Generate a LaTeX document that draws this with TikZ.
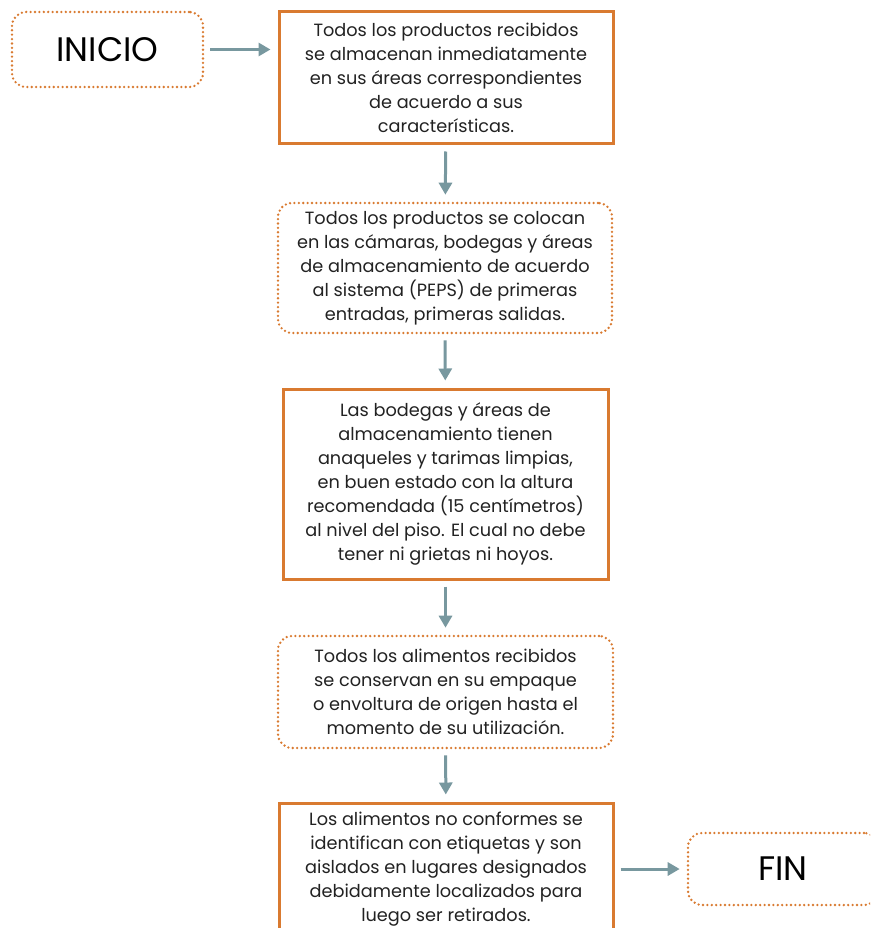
\documentclass[tikz,border=0pt]{standalone}
\usepackage{fontspec}
\setmainfont{Poppins}
\usetikzlibrary{arrows.meta}
\definecolor{boxorange}{HTML}{D97A30}
\definecolor{flowgray}{HTML}{78989F}
\definecolor{inkgray}{HTML}{222222}
\tikzset{
  solidbox/.style={draw=boxorange, line width=3pt, fill=white, align=center,
    text=inkgray, font=\fontsize{17.7}{24}\selectfont, inner sep=0pt},
  dotbox/.style={draw=boxorange, line width=2.6pt, line cap=round,
    dash pattern=on 0pt off 4.4pt, rounded corners=14pt, fill=white, align=center,
    text=inkgray, font=\fontsize{17.7}{24}\selectfont, inner sep=0pt},
  termbox/.style={dotbox, font=\fontsize{34}{40}\selectfont, text=black},
  flow/.style={draw=flowgray, line width=3pt,
    -{Triangle[length=12pt,width=13pt]}, shorten <=6pt, shorten >=7pt}
}
\begin{document}
\begin{tikzpicture}[x=1pt,y=-1pt]
\useasboundingbox (0,0) rectangle (870,928);
\clip (0,0) rectangle (870,928);
\fill[white] (0,0) rectangle (870,928);

\node[termbox, minimum width=191pt, minimum height=75pt] (inicio) at (107.5,49.5) {INICIO};

\node[solidbox, minimum width=334pt, minimum height=132pt] (s1) at (446,78)
  {Todos los productos recibidos\\se almacenan inmediatamente\\en sus áreas correspondientes\\de acuerdo a sus\\características.};

\node[dotbox, minimum width=334pt, minimum height=130pt] (s2) at (445,268)
  {Todos los productos se colocan\\en las cámaras, bodegas y áreas\\de almacenamiento de acuerdo\\al sistema (PEPS) de primeras\\entradas, primeras salidas.};

\node[solidbox, minimum width=325pt, minimum height=190pt] (s3) at (445.5,484)
  {Las bodegas y áreas de\\almacenamiento tienen\\anaqueles y tarimas limpias,\\en buen estado con la altura\\recomendada (15 centímetros)\\al nivel del piso. El cual no debe\\tener ni grietas ni hoyos.};

\node[dotbox, minimum width=335pt, minimum height=112pt] (s4) at (445.5,692)
  {Todos los alimentos recibidos\\se conservan en su empaque\\o envoltura de origen hasta el\\momento de su utilización.};

\node[solidbox, minimum width=334pt, minimum height=132pt] (s5) at (446,869)
  {Los alimentos no conformes se\\identifican con etiquetas y son\\aislados en lugares designados\\debidamente localizados para\\luego ser retirados.};

\node[termbox, minimum width=190pt, minimum height=72pt] (fin) at (783,869) {FIN};

\draw[flow] (inicio.east) -- (inicio.east -| s1.west);
\draw[flow] (s1) -- (s2);
\draw[flow] (s2) -- (s3);
\draw[flow] (s3) -- (s4);
\draw[flow] (s4) -- (s5);
\draw[flow] (s5) -- (fin);
\end{tikzpicture}
\end{document}
